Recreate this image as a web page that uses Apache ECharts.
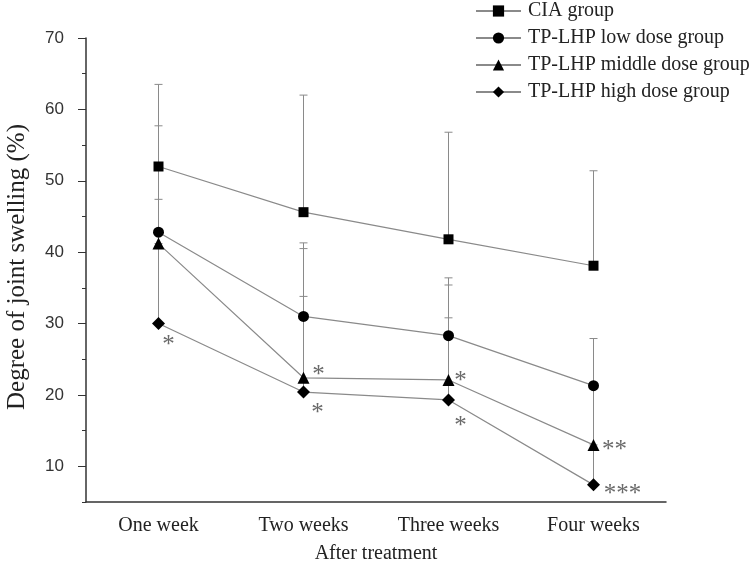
<!DOCTYPE html>
<html>
<head>
<meta charset="utf-8">
<script src="https://cdn.jsdelivr.net/npm/echarts@6/dist/echarts.min.js"></script>
<style>html,body{margin:0;padding:0;background:#fff;}#c{width:754px;height:570px;}</style>
</head>
<body>
<div id="c"></div>
<script>
// ---- data ----
var categories = ['One week', 'Two weeks', 'Three weeks', 'Four weeks'];
var seriesNames = ['CIA group', 'TP-LHP low dose group', 'TP-LHP middle dose group', 'TP-LHP high dose group'];
var ciaMean = [52.0, 45.6, 41.8, 38.1];
var lowMean = [42.8, 31.0, 28.3, 21.3];
var midMean = [41.2, 22.4, 22.1, 13.0];
var highMean = [30.0, 20.4, 19.3, 7.4];
// upper ends of error bars
var ciaTop = [63.5, 62.0, 56.8, 51.4];
var lowTop = [57.7, 41.3, 36.4, 27.9];
var midTop = [47.4, 40.5, 35.4, 21.3];
var highTop = [41.2, 33.8, 30.8, 13.0];
// significance marks
var midSig = ['', '*', '*', '**'];
var highSig = ['*', '*', '*', '***'];
// y tick positions (for long ticks)
var yTicks = ['5','10','15','20','25','30','35','40','45','50','55','60','65','70'];

var serif = '"Liberation Serif", "Times New Roman", serif';
var sans = '"Liberation Sans", Arial, sans-serif';

var midOffsets = [[0,0],[15,-2],[12,2],[21,6]];
var highOffsets = [[10,22],[14,21],[12,27],[29,10]];

function withSig(vals, sig, offs) {
  return vals.map(function (v, i) {
    var item = { value: v };
    if (sig[i]) {
      item.label = {
        show: true, formatter: sig[i], position: 'inside', offset: offs[i],
        color: '#6a6a6a', fontFamily: serif, fontSize: 25
      };
    }
    return item;
  });
}

function errData(means, tops) {
  return means.map(function (m, i) { return [i, m, tops[i]]; });
}

function errSeries(means, tops) {
  return {
    type: 'custom',
    z: 1,
    silent: true,
    data: errData(means, tops),
    encode: { x: 0, y: [1, 2] },
    renderItem: function (params, api) {
      var p0 = api.coord([api.value(0), api.value(1)]);
      var p1 = api.coord([api.value(0), api.value(2)]);
      var st = { stroke: '#8a8a8a', lineWidth: 1 };
      return {
        type: 'group',
        children: [
          { type: 'line', shape: { x1: p0[0], y1: p0[1], x2: p1[0], y2: p1[1] }, style: st },
          { type: 'line', shape: { x1: p1[0] - 4, y1: p1[1], x2: p1[0] + 4, y2: p1[1] }, style: st }
        ]
      };
    }
  };
}

function lineSeries(name, data, symbol, size) {
  return {
    name: name, type: 'line', data: data, z: 5,
    symbol: symbol, symbolSize: size,
    itemStyle: { color: '#000' },
    lineStyle: { color: '#8a8a8a', width: 1.2 },
    emphasis: { disabled: true }
  };
}

var chart = echarts.init(document.getElementById('c'), null, { renderer: 'canvas' });
chart.setOption({
  animation: false,
  backgroundColor: '#fff',
  grid: { left: 86, right: 88, top: 38, bottom: 68, containLabel: false, outerBoundsMode: 'none' },
  legend: {
    data: seriesNames,
    orient: 'vertical',
    left: 475, top: 1, padding: 0,
    itemWidth: 45, itemHeight: 14, itemGap: 7,
    textStyle: { fontFamily: serif, fontSize: 20, color: '#222', padding: [0, 0, 0, 2] }
  },
  xAxis: [{
    type: 'category', data: categories, boundaryGap: true, position: 'bottom',
    axisLine: { lineStyle: { color: '#333', width: 1.5 } },
    axisTick: { alignWithLabel: true, length: 6, lineStyle: { color: '#333' } },
    axisLabel: { fontFamily: serif, fontSize: 20, color: '#222', margin: 14 },
    name: 'After treatment', nameLocation: 'middle', nameGap: 42,
    nameTextStyle: { fontFamily: serif, fontSize: 20, color: '#222' }
  }, {
    type: 'category', data: categories, boundaryGap: true, position: 'bottom',
    axisLine: { show: false },
    axisTick: { length: 2, lineStyle: { color: '#333' } },
    axisLabel: { show: false }
  }],
  yAxis: [{
    type: 'value', min: 5, max: 70, interval: 5,
    axisLine: { show: true, lineStyle: { color: '#333', width: 1.5 } },
    axisTick: { show: true, length: 4, lineStyle: { color: '#333' } },
    splitLine: { show: false },
    axisLabel: {
      fontFamily: sans, fontSize: 17, color: '#333', margin: 22,
      formatter: function (v) { return v % 10 === 0 ? String(v) : ''; }
    },
    name: 'Degree of joint swelling (%)', nameLocation: 'middle', nameGap: 56, nameRotate: 90,
    nameTextStyle: { fontFamily: serif, fontSize: 25, color: '#222', padding: [0, 0, 0, 6] }
  }, {
    type: 'category', data: yTicks, boundaryGap: false, position: 'left',
    axisLine: { show: false },
    axisTick: {
      show: true, length: 8, lineStyle: { color: '#333' },
      interval: function (i, v) { return Number(v) % 10 === 0; }
    },
    axisLabel: { show: false },
    splitLine: { show: false }
  }],
  series: [
    errSeries(ciaMean, ciaTop),
    errSeries(lowMean, lowTop),
    errSeries(midMean, midTop),
    errSeries(highMean, highTop),
    lineSeries(seriesNames[0], ciaMean, 'rect', 10),
    lineSeries(seriesNames[1], lowMean, 'circle', 11),
    lineSeries(seriesNames[2], withSig(midMean, midSig, midOffsets), 'triangle', 12),
    lineSeries(seriesNames[3], withSig(highMean, highSig, highOffsets), 'diamond', 13)
  ]
});
</script>
</body>
</html>
